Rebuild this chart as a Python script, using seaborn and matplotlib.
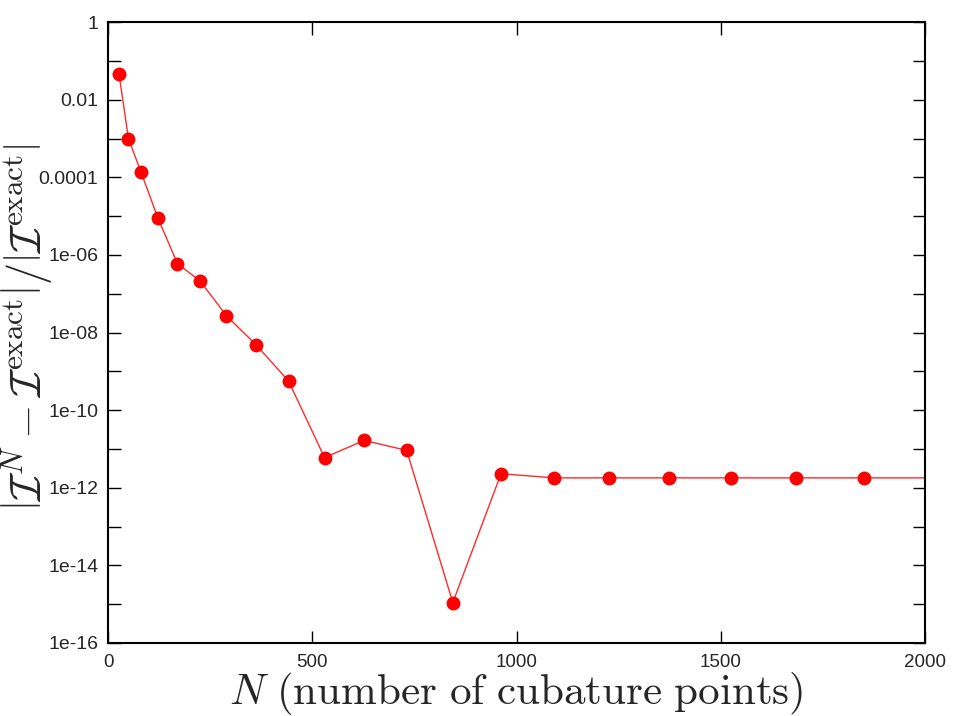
import matplotlib
matplotlib.use("Agg")
import matplotlib.pyplot as plt
import matplotlib.ticker as mticker
import pandas as pd
import seaborn as sns

# number of cubature points and relative error
n_points = [27, 50, 81, 122, 170, 226, 290, 362, 442, 530, 627, 731,
            844, 962, 1092, 1227, 1372, 1524, 1684, 1851, 2030]
rel_error = [4.6e-2, 1.0e-3, 1.35e-4, 9.0e-6, 6.0e-7, 2.1e-7, 2.7e-8,
             4.9e-9, 5.6e-10, 6.0e-12, 1.66e-11, 9.2e-12, 1.1e-15,
             2.3e-12, 1.8e-12, 1.8e-12, 1.8e-12, 1.8e-12, 1.8e-12,
             1.8e-12, 1.8e-12]

y_ticks = [1, 1e-2, 1e-4, 1e-6, 1e-8, 1e-10, 1e-12, 1e-14, 1e-16]
y_tick_labels = ["1", "0.01", "0.0001", "1e-06", "1e-08", "1e-10",
                 "1e-12", "1e-14", "1e-16"]
x_ticks = [0, 500, 1000, 1500, 2000]

df = pd.DataFrame({"N": n_points, "err": rel_error})

sns.set_style("ticks")
plt.rcParams["font.family"] = ["Liberation Sans", "DejaVu Sans"]
plt.rcParams["mathtext.fontset"] = "cm"

fig = plt.figure(figsize=(9.67, 7.16), dpi=100)
ax = fig.add_axes([0.1117, 0.102, 0.845, 0.867])

sns.lineplot(data=df, x="N", y="err", ax=ax, color="#ff2a2a", lw=1.0,
             marker="o", markersize=10, markerfacecolor="#ff0000",
             markeredgewidth=0)

ax.set_yscale("log")
ax.set_xlim(0, 2000)
ax.set_ylim(1e-16, 1)
ax.set_xticks(x_ticks)
ax.set_yticks(y_ticks)
ax.set_yticklabels(y_tick_labels)
ax.yaxis.set_minor_locator(mticker.FixedLocator(
    [10.0 ** (-k) for k in range(1, 16, 2)]))
ax.yaxis.set_minor_formatter(mticker.NullFormatter())
ax.xaxis.set_minor_locator(mticker.NullLocator())

ax.tick_params(which="both", direction="in", top=True, right=True,
               width=1.0, color="black", length=9)
ax.tick_params(axis="y", labelsize=14, pad=7)
ax.tick_params(axis="x", labelsize=13.5, pad=8)

for sp in ax.spines.values():
    sp.set_linewidth(1.5)
    sp.set_color("black")

ax.set_xlabel(r"$N\ \mathrm{(number\ of\ cubature\ points)}$",
              fontsize=31, labelpad=-1)
ax.set_ylabel(r"$\left|\mathcal{I}^N-\mathcal{I}^{\mathrm{exact}}\right|"
              r"/\left|\mathcal{I}^{\mathrm{exact}}\right|$",
              fontsize=32)
ax.yaxis.set_label_coords(-0.0665, 0.509)

fig.savefig("out.png", dpi=100)
